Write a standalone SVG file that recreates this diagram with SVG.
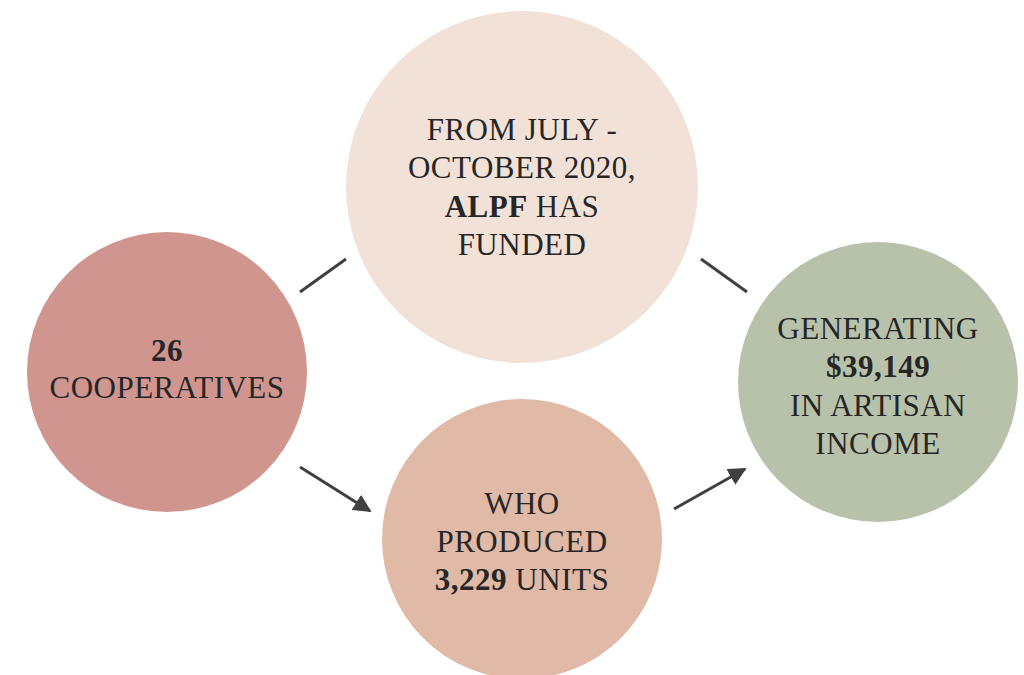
<svg xmlns="http://www.w3.org/2000/svg" width="1024" height="675" viewBox="0 0 1024 675">
<defs>
<marker id="ah" viewBox="0 0 10 10" refX="9" refY="5" markerWidth="6" markerHeight="6" markerUnits="strokeWidth" orient="auto">
<path d="M0,0 L10,5 L0,10 z" fill="#404040"/>
</marker>
<style>
.t{font-family:"Liberation Serif","Times New Roman",serif;font-size:31px;letter-spacing:0.5px;fill:#262626;text-anchor:middle}
.b{font-weight:bold}
.c{stroke:#404040;stroke-width:3;fill:none}
</style>
</defs>
<rect width="1024" height="675" fill="#ffffff"/>
<g id="connectors">
<line class="c" x1="300" y1="292" x2="346" y2="259"/>
<line class="c" x1="701" y1="259" x2="747" y2="292"/>
<line class="c" x1="300" y1="467" x2="370" y2="511" marker-end="url(#ah)"/>
<line class="c" x1="674" y1="509" x2="745" y2="469" marker-end="url(#ah)"/>
</g>
<g id="node-top">
<circle cx="522" cy="187" r="176" fill="#F2E1D7"/>
<text class="t" x="522" y="140">FROM JULY -</text>
<text class="t" x="522" y="178">OCTOBER 2020,</text>
<text class="t" x="522" y="217"><tspan class="b">ALPF</tspan> HAS</text>
<text class="t" x="522" y="255">FUNDED</text>
</g>
<g id="node-left">
<circle cx="167" cy="372" r="140" fill="#D19590"/>
<text class="t b" x="167" y="361">26</text>
<text class="t" x="167" y="398">COOPERATIVES</text>
</g>
<g id="node-bottom">
<circle cx="522" cy="539" r="140" fill="#E0B9A7"/>
<text class="t" x="522" y="514">WHO</text>
<text class="t" x="522" y="552">PRODUCED</text>
<text class="t" x="522" y="590"><tspan class="b">3,229</tspan> UNITS</text>
</g>
<g id="node-right">
<circle cx="878" cy="382" r="140" fill="#B8C2AB"/>
<text class="t" x="878" y="339">GENERATING</text>
<text class="t b" x="878" y="377">$39,149</text>
<text class="t" x="878" y="416">IN ARTISAN</text>
<text class="t" x="878" y="454">INCOME</text>
</g>
</svg>
